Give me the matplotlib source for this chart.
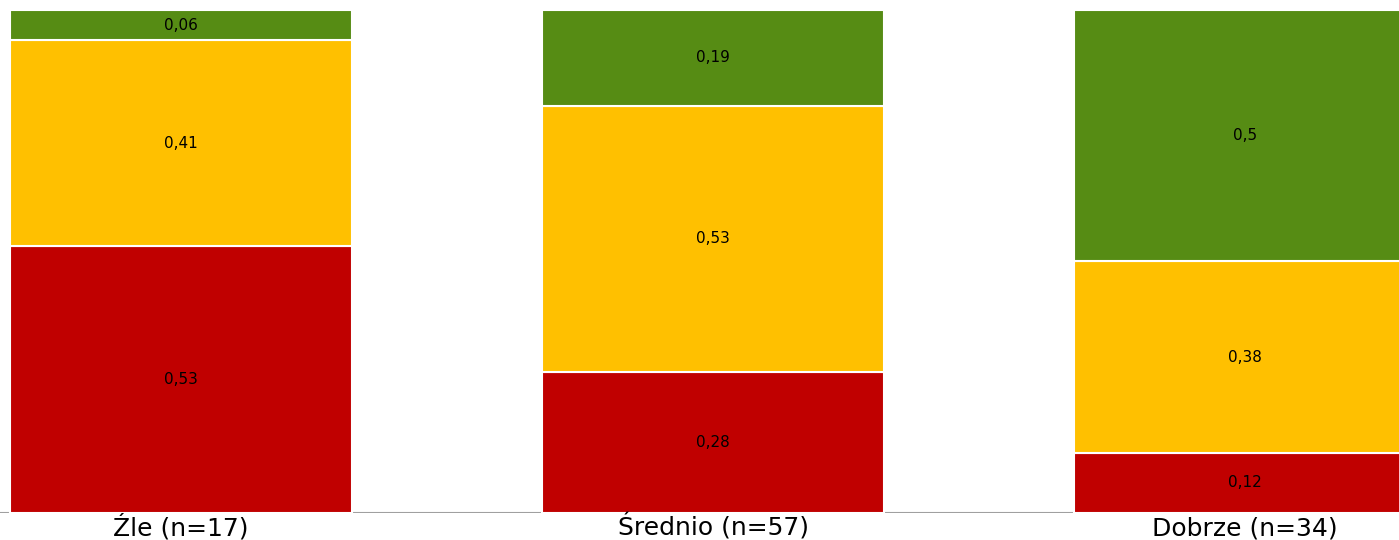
import numpy as np
import matplotlib.pyplot as plt

categories = ["Źle (n=17)", "Średnio (n=57)", "Dobrze (n=34)"]
red_vals = [0.53, 0.28, 0.12]
yellow_vals = [0.41, 0.53, 0.38]
green_vals = [0.06, 0.19, 0.5]

colors = ["#C00000", "#FFC000", "#568C14"]

fig = plt.figure(figsize=(13.99, 5.4), dpi=100)
ax = fig.add_axes([0, 0.05, 1, 0.9315])

x = np.arange(len(categories))
width = 0.643
bottom = np.zeros(len(categories))
for vals, c in zip([red_vals, yellow_vals, green_vals], colors):
    ax.bar(x, vals, width, bottom=bottom, color=c, edgecolor="white", linewidth=1.5, zorder=2)
    for xi, b, v in zip(x, bottom, vals):
        ax.text(xi, b + v / 2, str(v).replace(".", ","), ha="center", va="center",
                fontsize=11, family="DejaVu Sans", color="black", zorder=3)
    bottom += np.array(vals)

ax.set_xlim(-0.340, 2.289)
ax.set_ylim(0, 1)
ax.axhline(0, color="#A0A0A0", linewidth=1.5, zorder=1)
for s in ax.spines.values():
    s.set_visible(False)
ax.set_yticks([])
ax.set_xticks([])

# category labels, baseline aligned
for xi, lab in zip(x, categories):
    ax.text(xi, -22 / 503, lab, transform=ax.get_xaxis_transform(), ha="center",
            va="baseline", fontsize=18, color="black", clip_on=False)

fig.savefig("out.png", dpi=100)
